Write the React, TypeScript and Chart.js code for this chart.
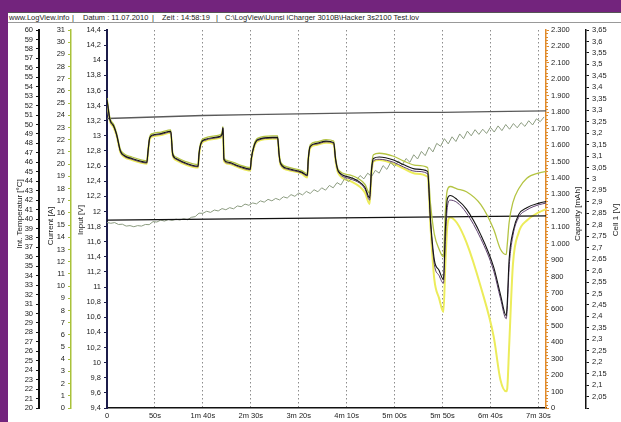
import React, { useEffect, useRef } from 'react';
import { Chart, registerables } from 'chart.js';

Chart.register(...registerables);

const FONT = '"Liberation Sans", Arial, sans-serif';
const PURPLE = '#73247d';

// X axis (seconds)
const X_TICKS = [0, 50, 100, 150, 200, 250, 300, 350, 400, 450];
const X_LABELS = ['0', '50s', '1m 40s', '2m 30s', '3m 20s', '4m 10s', '5m 00s', '5m 50s', '6m 40s', '7m 30s'];

// Pack / cell voltage traces (V, on the Input axis)
const PACK_T = [0, 3, 7, 10, 14, 18, 26, 36.5, 41.5, 43, 44.5, 47.5, 56.5, 66.5, 68.5, 72, 82, 95, 96, 98, 102, 117, 120, 121, 122, 126.5, 137.5, 149.5, 150.5, 153.5, 157.5, 173, 178, 179.5, 181, 188, 203, 209, 210, 212, 218.5, 228.5, 236.5, 238.5, 241.5, 254, 269, 274, 276, 278, 284, 299, 309, 322.5, 334.5, 337.5, 341.5, 346.5, 351, 353, 355, 358, 365, 375, 390, 403.5, 410.5, 416.5, 417.5, 419.5, 423.5, 429.5, 438, 451, 458];

const PACK_BLACK = [
  13.48, 13.22, 13.13, 13.02, 12.80, 12.74, 12.70, 12.66, 12.65, 12.82,
  12.97, 13.01, 13.03, 13.06, 12.76, 12.70, 12.64, 12.60, 12.76, 12.90,
  12.95, 12.99, 13.02, 13.11, 12.69, 12.65, 12.60, 12.56, 12.69, 12.87,
  12.95, 12.98, 12.98, 12.76, 12.64, 12.57, 12.52, 12.48, 12.69, 12.86,
  12.90, 12.93, 12.91, 12.69, 12.53, 12.45, 12.32, 12.18, 12.56, 12.70,
  12.72, 12.68, 12.62, 12.56, 12.53, 11.89, 11.36, 11.22, 11.10, 11.76,
  12.16, 12.21, 12.16, 12.03, 11.69, 11.26, 10.90, 10.62, 10.77, 11.36,
  11.73, 11.96, 12.05, 12.11, 12.13,
];

const PACK_PURPLE = [
  13.47, 13.21, 13.12, 13.01, 12.79, 12.73, 12.69, 12.65, 12.64, 12.81,
  12.96, 13.00, 13.02, 13.05, 12.75, 12.69, 12.63, 12.59, 12.75, 12.89,
  12.94, 12.98, 13.01, 13.10, 12.68, 12.64, 12.59, 12.55, 12.68, 12.86,
  12.94, 12.97, 12.97, 12.75, 12.63, 12.56, 12.51, 12.47, 12.68, 12.85,
  12.89, 12.92, 12.90, 12.68, 12.52, 12.43, 12.30, 12.15, 12.53, 12.67,
  12.69, 12.65, 12.59, 12.53, 12.50, 11.85, 11.30, 11.15, 11.05, 11.60,
  12.05, 12.15, 12.12, 11.98, 11.64, 11.21, 10.85, 10.58, 10.70, 11.25,
  11.68, 11.92, 12.02, 12.09, 12.11,
];

const PACK_GREEN = [
  13.50, 13.24, 13.15, 13.04, 12.82, 12.76, 12.72, 12.68, 12.67, 12.84,
  12.99, 13.03, 13.05, 13.08, 12.78, 12.72, 12.66, 12.62, 12.78, 12.92,
  12.97, 13.01, 13.04, 13.12, 12.71, 12.67, 12.62, 12.58, 12.71, 12.89,
  12.97, 13.00, 13.00, 12.78, 12.66, 12.59, 12.54, 12.50, 12.71, 12.88,
  12.92, 12.95, 12.93, 12.71, 12.55, 12.48, 12.36, 12.24, 12.60, 12.75,
  12.77, 12.73, 12.67, 12.61, 12.58, 12.10, 11.70, 11.50, 11.40, 12.00,
  12.28, 12.33, 12.30, 12.26, 12.09, 11.76, 11.50, 11.43, 11.55, 11.85,
  12.12, 12.30, 12.44, 12.51, 12.53,
];

const PACK_YELLOW = [
  13.46, 13.20, 13.11, 13.00, 12.78, 12.72, 12.68, 12.64, 12.63, 12.80,
  12.95, 12.99, 13.01, 13.04, 12.74, 12.68, 12.62, 12.58, 12.74, 12.88,
  12.93, 12.97, 13.00, 13.09, 12.67, 12.63, 12.58, 12.54, 12.67, 12.85,
  12.93, 12.96, 12.96, 12.74, 12.62, 12.55, 12.50, 12.45, 12.67, 12.84,
  12.88, 12.91, 12.89, 12.66, 12.50, 12.40, 12.25, 12.10, 12.50, 12.66,
  12.68, 12.63, 12.57, 12.50, 12.46, 11.80, 11.10, 10.85, 10.67, 11.30,
  11.80, 11.92, 11.85, 11.59, 11.00, 10.34, 9.77, 9.62, 9.65, 10.20,
  11.30, 11.72, 11.88, 11.99, 12.03,
];

// Input (supply) voltage
const INPUT_T = [0, 50, 100, 150, 200, 250, 300, 350, 400, 458];
const INPUT_V = [13.23, 13.25, 13.27, 13.28, 13.29, 13.30, 13.31, 13.31, 13.32, 13.33];

// Current (A)
const CURRENT_T = [0, 458];
const CURRENT_A = [15.4, 15.75];

// Internal temperature (°C)
const TEMP_T = [
  0, 4, 8, 12, 16, 20, 24, 28, 32, 36, 40, 44, 48, 52, 56, 60, 64, 68, 72, 76,
  80, 84, 88, 92, 96, 100, 104, 108, 112, 116, 120, 124, 128, 132, 136, 140, 144, 148, 152, 156,
  160, 164, 168, 172, 176, 180, 184, 188, 192, 196, 200, 204, 208, 212, 216, 220, 224, 228, 232, 236,
  240, 244, 248, 252, 256, 260, 264, 268, 272, 276, 280, 284, 288, 292, 296, 300, 304, 308, 312, 316,
  320, 324, 328, 332, 336, 340, 344, 348, 352, 356, 360, 364, 368, 372, 376, 380, 384, 388, 392, 396,
  400, 404, 408, 412, 416, 420, 424, 428, 432, 436, 440, 444, 448, 452, 456,
];
const TEMP_C = [
  39.63, 39.55, 39.62, 39.42, 39.45, 39.25, 39.30, 39.18, 39.30, 39.25, 39.42, 39.40, 39.72, 39.68, 39.88, 39.78, 39.95, 39.85, 39.98, 39.90,
  40.02, 39.92, 40.18, 40.25, 40.62, 40.60, 40.82, 40.70, 40.95, 40.85, 41.10, 40.98, 41.20, 41.08, 41.38, 41.30, 41.58, 41.45, 41.70, 41.60,
  41.92, 41.78, 42.08, 41.92, 42.18, 42.02, 42.35, 42.22, 42.58, 42.40, 42.75, 42.55, 42.92, 42.70, 43.10, 42.88, 43.30, 43.05, 43.55, 43.30,
  43.85, 43.60, 44.30, 43.95, 44.40, 44.05, 44.60, 44.25, 44.85, 44.50, 45.15, 44.85, 45.65, 45.25, 46.00, 45.55, 46.15, 45.70, 46.40, 46.00,
  46.80, 46.35, 47.15, 46.70, 47.60, 47.10, 48.00, 47.70, 48.50, 47.95, 48.70, 48.20, 49.00, 48.50, 49.30, 48.80, 49.45, 48.95, 49.50, 49.05,
  49.70, 49.20, 49.85, 49.35, 50.00, 49.50, 50.10, 49.65, 50.20, 49.80, 50.40, 49.95, 50.60, 50.30, 50.80,
];

const pts = (xs: number[], ys: number[]) => xs.map((x, i) => ({ x, y: ys[i] }));

const tickFont = { family: FONT, size: 7.5 };

const fmtComma = (v: number) => String(+v.toFixed(2)).replace('.', ',');
const fmtThousands = (v: number) => {
  const n = Math.round(v);
  if (n >= 1000) return `${Math.floor(n / 1000)}.${String(n % 1000).padStart(3, '0')}`;
  return String(n);
};

const titlesPlugin = {
  id: 'axisTitles',
  afterDraw(chart: any) {
    const { ctx, scales } = chart;
    const specs = [
      { id: 'yTemp', text: 'Int. Temperatur [°C]', x: (s: any) => s.left + 12, y: 214 },
      { id: 'yCur', text: 'Current [A]', x: (s: any) => s.left + 12, y: 226 },
      { id: 'yIn', text: 'Input [V]', x: (s: any) => s.left + 10, y: 220 },
      { id: 'yCap', text: 'Capacity [mAh]', x: (s: any) => s.left + 32, y: 214 },
      { id: 'yCell', text: 'Cell 1 [V]', x: (s: any) => s.left + 30, y: 220 },
    ];
    ctx.save();
    ctx.fillStyle = '#222';
    ctx.font = `8px ${FONT}`;
    ctx.textAlign = 'center';
    ctx.textBaseline = 'middle';
    for (const sp of specs) {
      const s = scales[sp.id];
      if (!s) continue;
      ctx.save();
      ctx.translate(sp.x(s), sp.y);
      ctx.rotate(-Math.PI / 2);
      ctx.fillText(sp.text, 0, 0);
      ctx.restore();
    }
    // minor ticks on capacity axis
    const cap = scales.yCap;
    if (cap) {
      ctx.strokeStyle = '#e08a2a';
      ctx.lineWidth = 1;
      for (let v = 0; v <= 2300; v += 20) {
        if (v % 100 === 0) continue;
        const y = Math.round(cap.getPixelForValue(v)) + 0.5;
        ctx.beginPath();
        ctx.moveTo(cap.left, y);
        ctx.lineTo(cap.left + 2, y);
        ctx.stroke();
      }
    }
    ctx.restore();
  },
};

const vAxis = (opts: any) => ({
  type: 'linear',
  position: opts.position,
  weight: opts.weight,
  min: opts.min,
  max: opts.max,
  ticks: {
    stepSize: opts.step,
    autoSkip: false,
    font: tickFont,
    color: '#222',
    padding: opts.padding ?? 3,
    callback: opts.format,
  },
  grid: { display: true, drawOnChartArea: false, drawTicks: true, tickLength: 3, color: opts.color, lineWidth: 1 },
  border: { display: true, color: opts.color, width: opts.borderWidth ?? 1.5 },
  afterFit: (s: any) => { s.width = opts.width; },
});

export default function App() {
  const ref = useRef<HTMLCanvasElement>(null);

  useEffect(() => {
    if (!ref.current) return;
    const line = (data: any, color: string, width: number, axis: string, smooth = true) => ({
      data,
      yAxisID: axis,
      xAxisID: 'x',
      borderColor: color,
      borderWidth: width,
      pointRadius: 0,
      fill: false,
      cubicInterpolationMode: smooth ? 'monotone' : 'default',
      tension: 0,
      borderJoinStyle: 'round',
    });
    const chart = new Chart(ref.current, {
      type: 'line',
      data: {
        datasets: [
          line(pts(PACK_T, PACK_BLACK), '#141414', 1.1, 'yIn'),
          line(pts(PACK_T, PACK_PURPLE), '#5e3f6e', 1, 'yIn'),
          line(pts(PACK_T, PACK_GREEN), '#b4c442', 1.3, 'yIn'),
          line(pts(INPUT_T, INPUT_V), '#5a5a5a', 1.4, 'yIn', false),
          line(pts(CURRENT_T, CURRENT_A), '#111111', 1.2, 'yCur', false),
          line(pts(TEMP_T, TEMP_C), '#8c9c80', 1, 'yTemp', false),
          line(pts(PACK_T, PACK_YELLOW), '#ecec5a', 2, 'yIn'),
        ] as any,
      },
      options: {
        responsive: false,
        animation: false,
        events: [],
        layout: { padding: { left: 8, top: 30, right: 0, bottom: 0 } },
        plugins: { legend: { display: false }, tooltip: { enabled: false }, title: { display: false } },
        scales: {
          x: {
            type: 'linear',
            min: 0,
            max: 458,
            afterBuildTicks: (s: any) => { s.ticks = X_TICKS.map((v) => ({ value: v })); },
            ticks: {
              font: tickFont,
              color: '#222',
              padding: 3,
              maxRotation: 0,
              autoSkip: false,
              callback: (v: any) => { const i = X_TICKS.indexOf(Number(v)); return i >= 0 ? X_LABELS[i] : ''; },
            },
            grid: { display: true, drawOnChartArea: true, drawTicks: false, color: '#8c8c8c', lineWidth: 1 },
            border: { display: true, color: '#111', width: 1.5, dash: [1.5, 2.5] },
            afterFit: (s: any) => { s.height = 14; },
          },
          yTemp: vAxis({ position: 'left', weight: 2, min: 20, max: 60, step: 1, color: '#111', width: 31, borderWidth: 2, format: (v: number) => String(v) }),
          yCur: vAxis({ position: 'left', weight: 1, min: 0, max: 31, step: 1, color: '#a9c23a', width: 32, format: (v: number) => String(v) }),
          yIn: vAxis({ position: 'left', weight: 0, min: 9.4, max: 14.4, step: 0.2, color: '#1c1c4a', width: 36, borderWidth: 2, format: (v: number) => fmtComma(v) }),
          yCap: vAxis({ position: 'right', weight: 0, min: 0, max: 2300, step: 100, color: '#e08a2a', width: 40, padding: 2, format: (v: number) => fmtThousands(v) }),
          yCell: vAxis({ position: 'right', weight: 1, min: 2.0, max: 3.65, step: 0.05, color: '#111', width: 35, format: (v: number) => (v < 2.02 ? '' : fmtComma(v)) }),
        } as any,
      },
      plugins: [titlesPlugin],
    } as any);
    return () => chart.destroy();
  }, []);

  const hdr = { position: 'absolute' as const, top: 13, fontSize: 7.5, lineHeight: '10px', color: '#222', whiteSpace: 'nowrap' as const };

  return (
    <div style={{ position: 'absolute', left: 0, top: 0, width: 621, height: 422, background: '#fff', overflow: 'hidden', fontFamily: FONT }}>
      <div style={{ position: 'absolute', left: 0, top: 0, width: 621, height: 12, background: PURPLE }} />
      <div style={{ position: 'absolute', left: 0, top: 0, width: 8, height: 422, background: PURPLE }} />
      <div style={{ position: 'absolute', left: 8, top: 12, width: 613, height: 11, borderTop: '1px solid #555', borderBottom: '1px solid #999', boxSizing: 'border-box' }} />
      <span style={{ ...hdr, left: 9 }}>www.LogView.info</span>
      <span style={{ ...hdr, left: 72 }}>|</span>
      <span style={{ ...hdr, left: 83 }}>Datum : 11.07.2010</span>
      <span style={{ ...hdr, left: 152 }}>|</span>
      <span style={{ ...hdr, left: 162 }}>Zeit : 14:58:19</span>
      <span style={{ ...hdr, left: 216 }}>|</span>
      <span style={{ ...hdr, left: 225 }}>C:\LogView\Uunsi iCharger 3010B\Hacker 3s2100 Test.lov</span>
      <canvas ref={ref} width={621} height={422} style={{ position: 'absolute', left: 0, top: 0 }} />
    </div>
  );
}
